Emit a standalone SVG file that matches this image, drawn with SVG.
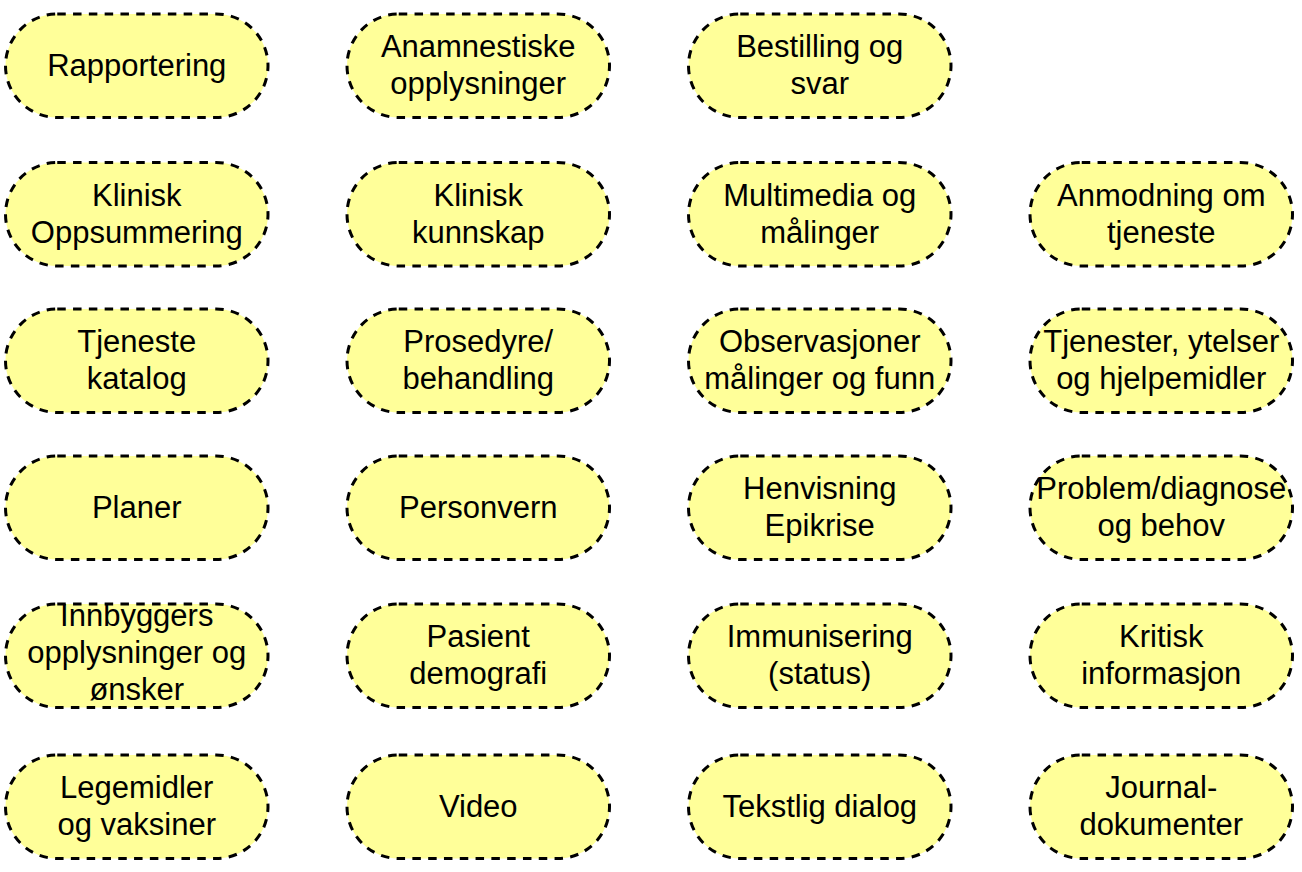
<svg xmlns="http://www.w3.org/2000/svg" width="1302" height="872" viewBox="0 0 1302 872">
<style>
.n rect{fill:#ffff99;stroke:#000;stroke-width:3;stroke-dasharray:8.5 7.3}
.n text{font-family:"Liberation Sans",Arial,sans-serif;font-size:31px;fill:#000;text-anchor:middle}
</style>
<rect width="1302" height="872" fill="#fff"/>
<g id="connectors"/>
<g id="nodes">
<g id="n-rapportering" class="n" transform="translate(5.5,14)"><rect width="262.5" height="103.5" rx="51.75"/><text x="131.25" y="61.5">Rapportering</text></g>
<g id="n-anamnestiske" class="n" transform="translate(347,14)"><rect width="262.5" height="103.5" rx="51.75"/><text x="131.25" y="43">Anamnestiske</text><text x="131.25" y="80">opplysninger</text></g>
<g id="n-bestilling" class="n" transform="translate(688.5,14)"><rect width="262.5" height="103.5" rx="51.75"/><text x="131.25" y="43">Bestilling og</text><text x="131.25" y="80">svar</text></g>

<g id="n-klinisk-oppsummering" class="n" transform="translate(5.5,162.5)"><rect width="262.5" height="103.5" rx="51.75"/><text x="131.25" y="43">Klinisk</text><text x="131.25" y="80">Oppsummering</text></g>
<g id="n-klinisk-kunnskap" class="n" transform="translate(347,162.5)"><rect width="262.5" height="103.5" rx="51.75"/><text x="131.25" y="43">Klinisk</text><text x="131.25" y="80">kunnskap</text></g>
<g id="n-multimedia" class="n" transform="translate(688.5,162.5)"><rect width="262.5" height="103.5" rx="51.75"/><text x="131.25" y="43">Multimedia og</text><text x="131.25" y="80">målinger</text></g>
<g id="n-anmodning" class="n" transform="translate(1030,162.5)"><rect width="262.5" height="103.5" rx="51.75"/><text x="131.25" y="43">Anmodning om</text><text x="131.25" y="80">tjeneste</text></g>

<g id="n-tjeneste-katalog" class="n" transform="translate(5.5,309)"><rect width="262.5" height="103.5" rx="51.75"/><text x="131.25" y="43">Tjeneste</text><text x="131.25" y="80">katalog</text></g>
<g id="n-prosedyre" class="n" transform="translate(347,309)"><rect width="262.5" height="103.5" rx="51.75"/><text x="131.25" y="43">Prosedyre/</text><text x="131.25" y="80">behandling</text></g>
<g id="n-observasjoner" class="n" transform="translate(688.5,309)"><rect width="262.5" height="103.5" rx="51.75"/><text x="131.25" y="43">Observasjoner</text><text x="131.25" y="80">målinger og funn</text></g>
<g id="n-tjenester-ytelser" class="n" transform="translate(1030,309)"><rect width="262.5" height="103.5" rx="51.75"/><text x="131.25" y="43">Tjenester, ytelser</text><text x="131.25" y="80">og hjelpemidler</text></g>

<g id="n-planer" class="n" transform="translate(5.5,456)"><rect width="262.5" height="103.5" rx="51.75"/><text x="131.25" y="61.5">Planer</text></g>
<g id="n-personvern" class="n" transform="translate(347,456)"><rect width="262.5" height="103.5" rx="51.75"/><text x="131.25" y="61.5">Personvern</text></g>
<g id="n-henvisning" class="n" transform="translate(688.5,456)"><rect width="262.5" height="103.5" rx="51.75"/><text x="131.25" y="43">Henvisning</text><text x="131.25" y="80">Epikrise</text></g>
<g id="n-problem" class="n" transform="translate(1030,456)"><rect width="262.5" height="103.5" rx="51.75"/><text x="131.25" y="43">Problem/diagnose</text><text x="131.25" y="80">og behov</text></g>

<g id="n-innbyggers" class="n" transform="translate(5.5,604)"><rect width="262.5" height="103.5" rx="51.75"/><text x="131.25" y="21.5">Innbyggers</text><text x="131.25" y="59">opplysninger og</text><text x="131.25" y="95.5">ønsker</text></g>
<g id="n-pasient" class="n" transform="translate(347,604)"><rect width="262.5" height="103.5" rx="51.75"/><text x="131.25" y="43">Pasient</text><text x="131.25" y="80">demografi</text></g>
<g id="n-immunisering" class="n" transform="translate(688.5,604)"><rect width="262.5" height="103.5" rx="51.75"/><text x="131.25" y="43">Immunisering</text><text x="131.25" y="80">(status)</text></g>
<g id="n-kritisk" class="n" transform="translate(1030,604)"><rect width="262.5" height="103.5" rx="51.75"/><text x="131.25" y="43">Kritisk</text><text x="131.25" y="80">informasjon</text></g>

<g id="n-legemidler" class="n" transform="translate(5.5,755)"><rect width="262.5" height="103.5" rx="51.75"/><text x="131.25" y="43">Legemidler</text><text x="131.25" y="80">og vaksiner</text></g>
<g id="n-video" class="n" transform="translate(347,755)"><rect width="262.5" height="103.5" rx="51.75"/><text x="131.25" y="61.5">Video</text></g>
<g id="n-tekstlig" class="n" transform="translate(688.5,755)"><rect width="262.5" height="103.5" rx="51.75"/><text x="131.25" y="61.5">Tekstlig dialog</text></g>
<g id="n-journal" class="n" transform="translate(1030,755)"><rect width="262.5" height="103.5" rx="51.75"/><text x="131.25" y="43">Journal-</text><text x="131.25" y="80">dokumenter</text></g>
</g>
</svg>
